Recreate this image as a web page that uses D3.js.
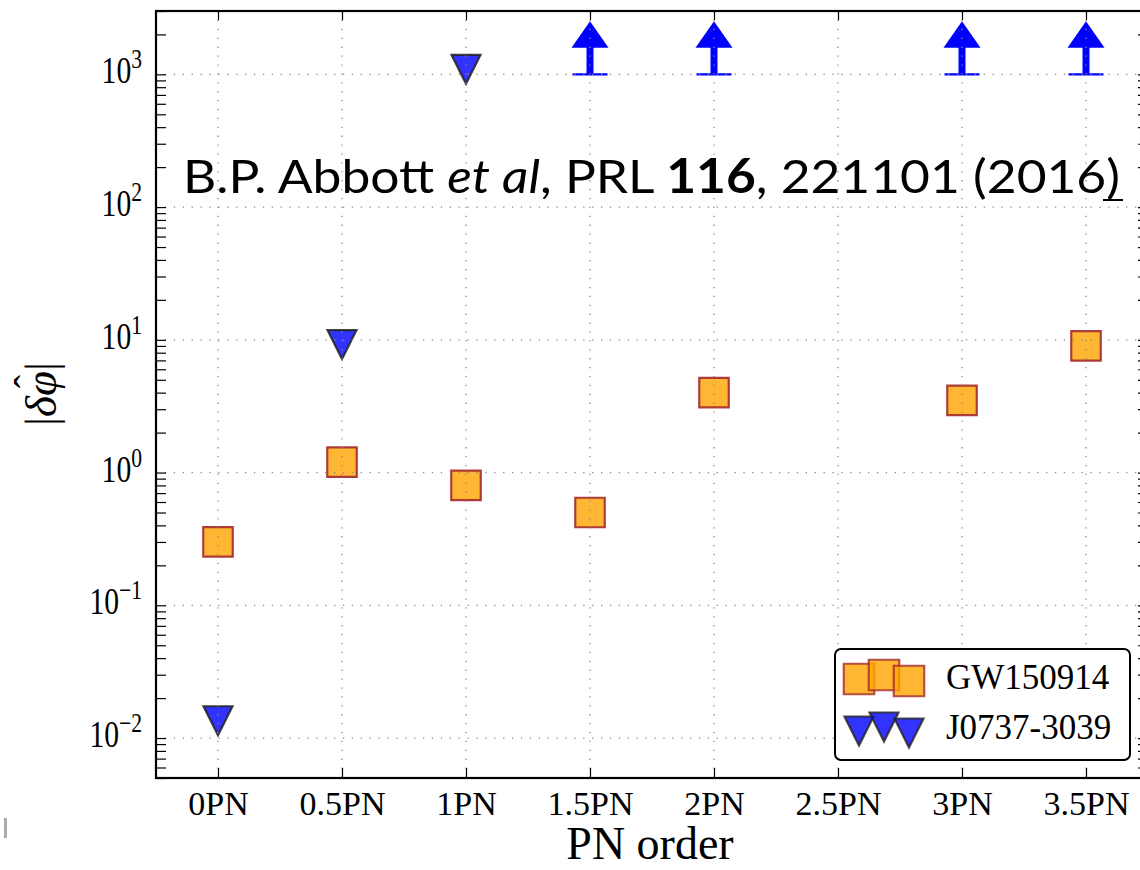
<!DOCTYPE html>
<html>
<head>
<meta charset="utf-8">
<script src="https://cdn.jsdelivr.net/npm/d3@7"></script>
<style>
  html, body { margin: 0; padding: 0; background: #fff; }
  svg { display: block; }
</style>
</head>
<body>
<svg id="chart" width="1140" height="870"></svg>
<script>
// ---------------- data ----------------
const categories = ["0PN", "0.5PN", "1PN", "1.5PN", "2PN", "2.5PN", "3PN", "3.5PN"];
const pnOrders = [0, 0.5, 1, 1.5, 2, 2.5, 3, 3.5];

const gwOrders = [0, 0.5, 1, 1.5, 2, 3, 3.5];
const gwValues = [0.30, 1.2, 0.80, 0.50, 4.0, 3.5, 9.0];

const pulsarOrders = [0, 0.5, 1];
const pulsarValues = [0.0135, 9.2, 1090];

const limitOrders = [1.5, 2, 3, 3.5];
const limitValues = [1000, 1000, 1000, 1000];

const yTickExponents = [-2, -1, 0, 1, 2, 3];
const legendLabels = ["GW150914", "J0737-3039"];

// ---------------- layout ----------------
const svg = d3.select("#chart");
const L = 156, R = 1148, T = 11, B = 778;

const x = d3.scaleLinear().domain([-0.25, 3.75]).range([L, R]);
const y = d3.scaleLog().domain([0.005, 3000]).range([B, T]);

const majorY = yTickExponents.map(e => Math.pow(10, e));
const minorY = [];
for (let e = -3; e <= 3; e++) {
  for (let m = 2; m <= 9; m++) {
    const v = m * Math.pow(10, e);
    if (v >= 0.005 && v <= 3000) minorY.push(v);
  }
}

const serif = "'Liberation Serif', 'Times New Roman', serif";
const sqFill = "orange", sqEdge = "#a52a2a";
const triFill = "blue", triEdge = "#222";

// ---------------- markers ----------------
const markers = svg.append("g");

// lower-limit arrows (blue)
const arrows = markers.selectAll("g.arrow").data(limitOrders.map((o, i) => ({o, v: limitValues[i]})))
  .enter().append("g").attr("class", "arrow")
  .attr("transform", d => `translate(${x(d.o)},${y(d.v)})`);
arrows.append("rect").attr("x", -3.5).attr("y", -28).attr("width", 7).attr("height", 28).attr("fill", "#0000ff");
arrows.append("path").attr("d", "M0,-53 L18.5,-26.5 L-18.5,-26.5 Z").attr("fill", "#0000ff");
arrows.append("line").attr("x1", -17.5).attr("x2", 17.5).attr("y1", 0).attr("y2", 0)
  .attr("stroke", "#0000ff").attr("stroke-width", 2.2);

function squarePath(s) { return `M${-s/2},${-s/2} H${s/2} V${s/2} H${-s/2} Z`; }
function triDownPath(w, h) { return `M${-w/2},${-h/2} L${w/2},${-h/2} L0,${h/2} Z`; }

markers.selectAll("path.gw").data(gwOrders.map((o, i) => ({o, v: gwValues[i]})))
  .enter().append("path").attr("class", "gw")
  .attr("d", squarePath(29.5))
  .attr("transform", d => `translate(${x(d.o)},${y(d.v)})`)
  .attr("fill", sqFill).attr("fill-opacity", 0.8)
  .attr("stroke", sqEdge).attr("stroke-opacity", 0.9).attr("stroke-width", 2.2);

markers.selectAll("path.psr").data(pulsarOrders.map((o, i) => ({o, v: pulsarValues[i]})))
  .enter().append("path").attr("class", "psr")
  .attr("d", triDownPath(29, 29))
  .attr("transform", d => `translate(${x(d.o)},${y(d.v)})`)
  .attr("fill", triFill).attr("fill-opacity", 0.8)
  .attr("stroke", triEdge).attr("stroke-opacity", 0.85).attr("stroke-width", 2.2);

// ---------------- grid (on top of markers) ----------------
const grid = svg.append("g").attr("stroke", "#8a8a8a").attr("stroke-width", 1.3)
  .attr("stroke-dasharray", "1.3,7.6");
grid.selectAll("line.gx").data(pnOrders).enter().append("line")
  .attr("x1", d => x(d)).attr("x2", d => x(d)).attr("y1", T).attr("y2", B);
grid.selectAll("line.gy").data(majorY).enter().append("line")
  .attr("y1", d => y(d)).attr("y2", d => y(d)).attr("x1", L).attr("x2", R);

// ---------------- axes ----------------
function styleAxis(g) {
  g.select(".domain").remove();
  g.selectAll(".tick line").attr("stroke", "#000").attr("stroke-width", 1.2);
}

// bottom
const xAxisB = svg.append("g").attr("transform", `translate(0,${B})`)
  .call(d3.axisBottom(x).tickValues(pnOrders).tickSize(-10).tickFormat((d, i) => categories[i]));
styleAxis(xAxisB);
xAxisB.selectAll(".tick text").attr("y", 37).attr("dy", 0)
  .attr("font-family", serif).attr("font-size", 34).attr("fill", "#000");

// top
const xAxisT = svg.append("g").attr("transform", `translate(0,${T})`)
  .call(d3.axisTop(x).tickValues(pnOrders).tickSize(-9).tickFormat(""));
styleAxis(xAxisT);

// left / right, major + minor
const yAxisL = svg.append("g").attr("transform", `translate(${L},0)`)
  .call(d3.axisLeft(y).tickValues(majorY.concat(minorY)).tickSize(-10).tickFormat(""));
styleAxis(yAxisL);
const yAxisR = svg.append("g").attr("transform", `translate(${R},0)`)
  .call(d3.axisRight(y).tickValues(majorY.concat(minorY)).tickSize(-10).tickFormat(""));
styleAxis(yAxisR);

// y tick labels 10^n
const yLabels = svg.append("g");
yTickExponents.forEach(e => {
  const g = yLabels.append("g").attr("transform", `translate(142,${y(Math.pow(10, e)) + 9}) scale(0.8,1)`);
  const t = g.append("text").attr("text-anchor", "end").attr("font-family", serif)
    .attr("font-size", 37).attr("fill", "#000");
  t.append("tspan").text("10");
  t.append("tspan").attr("font-size", 27).attr("dy", -15)
    .text(e < 0 ? "\u2212" + Math.abs(e) : String(e));
});

// frame (spines)
svg.append("rect").attr("x", L).attr("y", T).attr("width", R - L).attr("height", B - T)
  .attr("fill", "none").attr("stroke", "#000").attr("stroke-width", 2.2);

// ---------------- axis titles ----------------
svg.append("text").attr("x", 650).attr("y", 859).attr("text-anchor", "middle")
  .attr("font-family", serif).attr("font-size", 46).attr("fill", "#000").text("PN order");

const yl = svg.append("g").attr("transform", "translate(56,394) rotate(-90)");
const ylt = yl.append("text").attr("text-anchor", "middle").attr("font-family", serif)
  .attr("font-size", 45).attr("fill", "#000");
ylt.append("tspan").text("|");
ylt.append("tspan").attr("font-style", "italic").text("\u03B4");
ylt.append("tspan").attr("font-style", "italic").text("\u03C6");
ylt.append("tspan").text("|");
try {
  const ext = ylt.node().getExtentOfChar(2);
  yl.append("text").attr("x", ext.x + ext.width / 2 + 2).attr("y", ext.y + 26)
    .attr("text-anchor", "middle").attr("font-family", serif).attr("font-size", 40)
    .attr("fill", "#000").text("\u02C6");
} catch (err) {}

// ---------------- annotation ----------------
const ann = svg.append("text").attr("x", 183).attr("y", 193)
  .attr("font-family", "Lato, 'Open Sans', sans-serif").attr("font-size", 47).attr("fill", "#000")
  .attr("textLength", 937).attr("lengthAdjust", "spacingAndGlyphs");
ann.append("tspan").text("B.P. Abbott ");
ann.append("tspan").attr("font-style", "italic").text("et al");
ann.append("tspan").text(", PRL ");
ann.append("tspan").attr("font-weight", "bold").text("116");
ann.append("tspan").text(", 221101 (2016)");
const endX = 183 + 937;
svg.append("line").attr("x1", endX - 17).attr("x2", endX + 3).attr("y1", 200).attr("y2", 200)
  .attr("stroke", "#000").attr("stroke-width", 2);

// ---------------- legend ----------------
const lg = svg.append("g");
lg.append("rect").attr("x", 835).attr("y", 649).attr("width", 295).attr("height", 111)
  .attr("rx", 6).attr("ry", 6).attr("fill", "#fff").attr("stroke", "#000").attr("stroke-width", 2);
const legendDX = [859, 884, 909];
const legendDY = [3, -1, 5];
legendDX.forEach((lx, i) => {
  lg.append("path").attr("d", squarePath(30.5))
    .attr("transform", `translate(${lx},${676 + legendDY[i]})`)
    .attr("fill", sqFill).attr("fill-opacity", 0.8)
    .attr("stroke", sqEdge).attr("stroke-opacity", 0.8).attr("stroke-width", 2.2);
});
legendDX.forEach((lx, i) => {
  lg.append("path").attr("d", triDownPath(29, 29))
    .attr("transform", `translate(${lx},${728 + legendDY[i]})`)
    .attr("fill", triFill).attr("fill-opacity", 0.8)
    .attr("stroke", triEdge).attr("stroke-opacity", 0.8).attr("stroke-width", 2.2);
});
lg.selectAll("text.lbl").data(legendLabels).enter().append("text")
  .attr("x", 946).attr("y", (d, i) => 689 + i * 50)
  .attr("font-family", serif).attr("font-size", 35).attr("fill", "#000").text(d => d);

// small gray mark at lower left
svg.append("rect").attr("x", 4).attr("y", 818).attr("width", 3).attr("height", 20).attr("fill", "#aaa");
</script>
</body>
</html>
